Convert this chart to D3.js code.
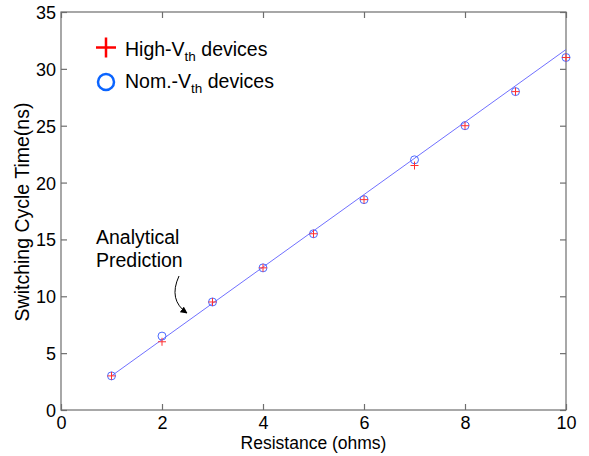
<!DOCTYPE html>
<html>
<head>
<meta charset="utf-8">
<script src="https://cdn.jsdelivr.net/npm/d3@7/dist/d3.min.js"></script>
<style>
  html, body { margin: 0; padding: 0; background: #fff; }
  svg { display: block; font-family: "Liberation Sans", Arial, Helvetica, sans-serif; }
</style>
</head>
<body>
<svg id="chart" width="589" height="456"></svg>
<script>
// Resistance values (ohms)
const resistance = [1, 2, 3, 4, 5, 6, 7, 8, 9, 10];
// Measured switching cycle time (ns)
const highVth = [3, 6, 9.5, 12.5, 15.5, 18.5, 21.5, 25, 28, 31];
const nomVth  = [3, 6.5, 9.5, 12.5, 15.5, 18.5, 22, 25, 28, 31];
// Analytical prediction line endpoints
const predX = [1, 10];
const predY = [3.0, 31.7];

const xTicks = [0, 2, 4, 6, 8, 10];
const yTicks = [0, 5, 10, 15, 20, 25, 30, 35];

const svg = d3.select("#chart");
const plotLeft = 61, plotRight = 566, plotTop = 12, plotBottom = 410;
const axisColor = "#6e6e6e";

const x = d3.scaleLinear().domain([0, 10]).range([plotLeft, plotRight]);
const y = d3.scaleLinear().domain([0, 35]).range([plotBottom, plotTop]);

// Box
svg.append("rect")
  .attr("x", plotLeft).attr("y", plotTop)
  .attr("width", plotRight - plotLeft).attr("height", plotBottom - plotTop)
  .attr("fill", "none").attr("stroke", axisColor).attr("stroke-width", 1.2);

// Inward ticks on all four sides
const tickLen = 6;
function styleAxis(g) {
  g.select(".domain").remove();
  g.selectAll(".tick line").attr("stroke", axisColor).attr("stroke-width", 1.2);
  g.selectAll(".tick text").attr("fill", "#000").attr("font-size", 18)
    .attr("font-family", "Liberation Sans, Arial, sans-serif");
}
svg.append("g").attr("transform", `translate(0,${plotBottom})`)
  .call(d3.axisBottom(x).tickValues(xTicks).tickFormat(d3.format("d"))
        .tickSizeInner(-tickLen).tickSizeOuter(0))
  .call(styleAxis)
  .call(g => g.selectAll(".tick text").attr("y", 19).attr("dy", 0));
svg.append("g").attr("transform", `translate(0,${plotTop})`)
  .call(d3.axisTop(x).tickValues(xTicks).tickFormat("").tickSizeInner(-tickLen).tickSizeOuter(0))
  .call(styleAxis);
svg.append("g").attr("transform", `translate(${plotLeft},0)`)
  .call(d3.axisLeft(y).tickValues(yTicks).tickFormat(d3.format("d"))
        .tickSizeInner(-tickLen).tickSizeOuter(0))
  .call(styleAxis)
  .call(g => g.selectAll(".tick text").attr("x", -5).attr("dy", "0.36em"));
svg.append("g").attr("transform", `translate(${plotRight},0)`)
  .call(d3.axisRight(y).tickValues(yTicks).tickFormat("").tickSizeInner(-tickLen).tickSizeOuter(0))
  .call(styleAxis);

// Axis titles
svg.append("text")
  .attr("x", (plotLeft + plotRight) / 2).attr("y", 449)
  .attr("text-anchor", "middle").attr("font-size", 17.5)
  .text("Resistance (ohms)");
svg.append("text")
  .attr("transform", `translate(29,212) rotate(-90)`)
  .attr("text-anchor", "middle").attr("font-size", 19.5)
  .text("Switching Cycle Time(ns)");

// Analytical prediction line
const line = d3.line().x(d => x(d[0])).y(d => y(d[1]));
svg.append("path")
  .datum(predX.map((v, i) => [v, predY[i]]))
  .attr("d", line)
  .attr("fill", "none").attr("stroke", "#7070ff").attr("stroke-width", 1);

// Nominal-Vth markers (circles)
svg.append("g").selectAll("circle")
  .data(resistance.map((r, i) => [r, nomVth[i]]))
  .join("circle")
  .attr("cx", d => x(d[0])).attr("cy", d => y(d[1])).attr("r", 4)
  .attr("fill", "none").attr("stroke", "#4d6bff").attr("stroke-width", 1);

// High-Vth markers (plus signs)
const ps = 4;
svg.append("g").selectAll("path")
  .data(resistance.map((r, i) => [r, highVth[i]]))
  .join("path")
  .attr("d", d => {
    const cx = x(d[0]), cy = y(d[1]);
    return `M${cx - ps},${cy}H${cx + ps}M${cx},${cy - ps}V${cy + ps}`;
  })
  .attr("fill", "none").attr("stroke", "#ff3030").attr("stroke-width", 1);

// Legend
const lg = svg.append("g");
lg.append("path")
  .attr("d", "M96,47.5H116M106,37.5V57.5")
  .attr("stroke", "#ff0000").attr("stroke-width", 2.5).attr("fill", "none");
lg.append("circle")
  .attr("cx", 106).attr("cy", 82).attr("r", 8)
  .attr("fill", "none").attr("stroke", "#0a64ff").attr("stroke-width", 2.5);
function legendText(yb, prefix) {
  const t = lg.append("text").attr("x", 125).attr("y", yb).attr("font-size", 19.5);
  t.append("tspan").text(prefix + "V");
  t.append("tspan").attr("font-size", 13.5).attr("dy", 5).text("th");
  t.append("tspan").attr("dy", -5).text(" devices");
}
legendText(55.5, "High-");
legendText(88, "Nom.-");

// Annotation
svg.append("defs").append("marker")
  .attr("id", "arrowhead").attr("viewBox", "0 0 10 10")
  .attr("refX", 9).attr("refY", 5)
  .attr("markerWidth", 7).attr("markerHeight", 7)
  .attr("markerUnits", "userSpaceOnUse")
  .attr("orient", "auto")
  .append("path").attr("d", "M0,0L10,5L0,10Z").attr("fill", "#000");
const ann = svg.append("text").attr("font-size", 19.5).attr("fill", "#000");
ann.append("tspan").attr("x", 96).attr("y", 244).text("Analytical");
ann.append("tspan").attr("x", 96).attr("y", 267).text("Prediction");
svg.append("path")
  .attr("d", "M179,276 Q168,300 187,313")
  .attr("fill", "none").attr("stroke", "#000").attr("stroke-width", 1)
  .attr("marker-end", "url(#arrowhead)");
</script>
</body>
</html>
